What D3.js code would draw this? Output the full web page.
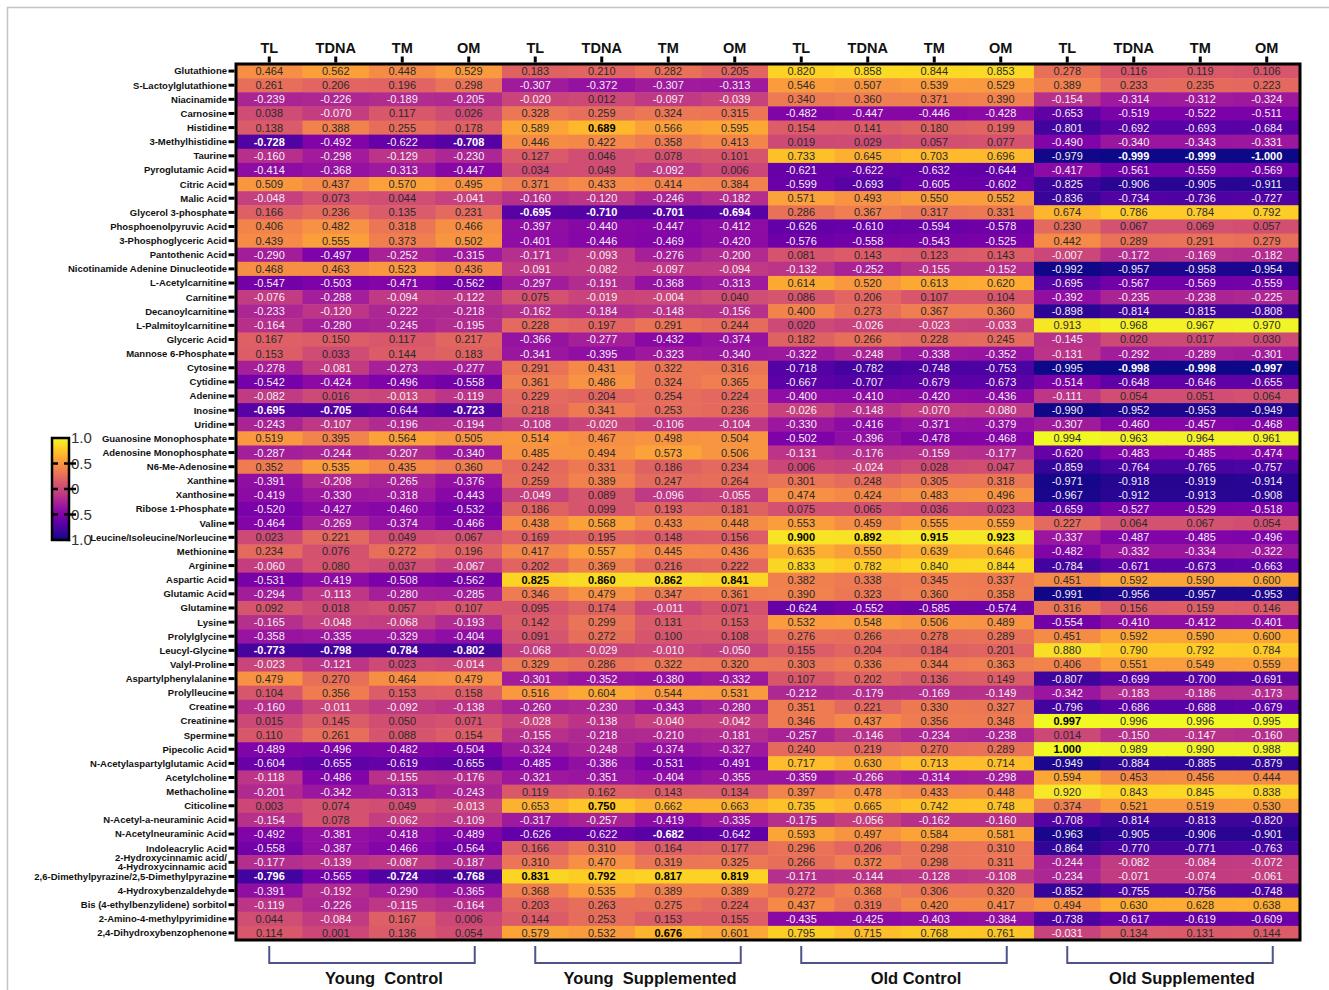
<!DOCTYPE html>
<html>
<head>
<meta charset="utf-8">
<script src="https://cdn.jsdelivr.net/npm/d3@7"></script>
<style>
  body { margin: 0; background: #fff; }
  svg { display: block; font-family: "Liberation Sans", Arial, sans-serif; }
  .rowlab { font-size: 9.5px; font-weight: bold; fill: #111; }
  .collab { font-size: 14.5px; font-weight: bold; fill: #111; }
  .cellval { font-family: "Liberation Sans Narrow", "Arial Narrow", sans-serif; font-size: 11px; }
  .grouplab { font-size: 16.5px; font-weight: bold; fill: #111; white-space: pre; }
</style>
</head>
<body>
<script>
// metabolites, top to bottom
const metabolites = [
  'Glutathione', 'S-Lactoylglutathione', 'Niacinamide', 'Carnosine', 'Histidine',
  '3-Methylhistidine', 'Taurine', 'Pyroglutamic Acid', 'Citric Acid', 'Malic Acid',
  'Glycerol 3-phosphate', 'Phosphoenolpyruvic Acid', '3-Phosphoglyceric Acid', 'Pantothenic Acid',
  'Nicotinamide Adenine Dinucleotide', 'L-Acetylcarnitine', 'Carnitine', 'Decanoylcarnitine',
  'L-Palmitoylcarnitine', 'Glyceric Acid', 'Mannose 6-Phosphate', 'Cytosine', 'Cytidine',
  'Adenine', 'Inosine', 'Uridine', 'Guanosine Monophosphate', 'Adenosine Monophosphate',
  'N6-Me-Adenosine', 'Xanthine', 'Xanthosine', 'Ribose 1-Phosphate', 'Valine',
  'Leucine/Isoleucine/Norleucine', 'Methionine', 'Arginine', 'Aspartic Acid', 'Glutamic Acid',
  'Glutamine', 'Lysine', 'Prolylglycine', 'Leucyl-Glycine', 'Valyl-Proline',
  'Aspartylphenylalanine', 'Prolylleucine', 'Creatine', 'Creatinine', 'Spermine',
  'Pipecolic Acid', 'N-Acetylaspartylglutamic Acid', 'Acetylcholine', 'Methacholine',
  'Citicoline', 'N-Acetyl-a-neuraminic Acid', 'N-Acetylneuraminic Acid', 'Indoleacrylic Acid',
  '2-Hydroxycinnamic acid/|4-Hydroxycinnamic acid', '2,6-Dimethylpyrazine/2,5-Dimethylpyrazine',
  '4-Hydroxybenzaldehyde', 'Bis (4-ethylbenzylidene) sorbitol', '2-Amino-4-methylpyrimidine',
  '2,4-Dihydroxybenzophenone'
]
const measures = ['TL', 'TDNA', 'TM', 'OM']
const groups = ['Young  Control', 'Young  Supplemented', 'Old Control', 'Old Supplemented']

// correlation values per group, one row per metabolite: TL, TDNA, TM, OM
const youngControl = [
  [0.464,0.562,0.448,0.529],[0.261,0.206,0.196,0.298],[-0.239,-0.226,-0.189,-0.205],[0.038,-0.070,0.117,0.026],
  [0.138,0.388,0.255,0.178],[-0.728,-0.492,-0.622,-0.708],[-0.160,-0.298,-0.129,-0.230],[-0.414,-0.368,-0.313,-0.447],
  [0.509,0.437,0.570,0.495],[-0.048,0.073,0.044,-0.041],[0.166,0.236,0.135,0.231],[0.406,0.482,0.318,0.466],
  [0.439,0.555,0.373,0.502],[-0.290,-0.497,-0.252,-0.315],[0.468,0.463,0.523,0.436],[-0.547,-0.503,-0.471,-0.562],
  [-0.076,-0.288,-0.094,-0.122],[-0.233,-0.120,-0.222,-0.218],[-0.164,-0.280,-0.245,-0.195],[0.167,0.150,0.117,0.217],
  [0.153,0.033,0.144,0.183],[-0.278,-0.081,-0.273,-0.277],[-0.542,-0.424,-0.496,-0.558],[-0.082,0.016,-0.013,-0.119],
  [-0.695,-0.705,-0.644,-0.723],[-0.243,-0.107,-0.196,-0.194],[0.519,0.395,0.564,0.505],[-0.287,-0.244,-0.207,-0.340],
  [0.352,0.535,0.435,0.360],[-0.391,-0.208,-0.265,-0.376],[-0.419,-0.330,-0.318,-0.443],[-0.520,-0.427,-0.460,-0.532],
  [-0.464,-0.269,-0.374,-0.466],[0.023,0.221,0.049,0.067],[0.234,0.076,0.272,0.196],[-0.060,0.080,0.037,-0.067],
  [-0.531,-0.419,-0.508,-0.562],[-0.294,-0.113,-0.280,-0.285],[0.092,0.018,0.057,0.107],[-0.165,-0.048,-0.068,-0.193],
  [-0.358,-0.335,-0.329,-0.404],[-0.773,-0.798,-0.784,-0.802],[-0.023,-0.121,0.023,-0.014],[0.479,0.270,0.464,0.479],
  [0.104,0.356,0.153,0.158],[-0.160,-0.011,-0.092,-0.138],[0.015,0.145,0.050,0.071],[0.110,0.261,0.088,0.154],
  [-0.489,-0.496,-0.482,-0.504],[-0.604,-0.655,-0.619,-0.655],[-0.118,-0.486,-0.155,-0.176],[-0.201,-0.342,-0.313,-0.243],
  [0.003,0.074,0.049,-0.013],[-0.154,0.078,-0.062,-0.109],[-0.492,-0.381,-0.418,-0.489],[-0.558,-0.387,-0.466,-0.564],
  [-0.177,-0.139,-0.087,-0.187],[-0.796,-0.565,-0.724,-0.768],[-0.391,-0.192,-0.290,-0.365],[-0.119,-0.226,-0.115,-0.164],
  [0.044,-0.084,0.167,0.006],[0.114,0.001,0.136,0.054]
]
const youngSupplemented = [
  [0.183,0.210,0.282,0.205],[-0.307,-0.372,-0.307,-0.313],[-0.020,0.012,-0.097,-0.039],[0.328,0.259,0.324,0.315],
  [0.589,0.689,0.566,0.595],[0.446,0.422,0.358,0.413],[0.127,0.046,0.078,0.101],[0.034,0.049,-0.092,0.006],
  [0.371,0.433,0.414,0.384],[-0.160,-0.120,-0.246,-0.182],[-0.695,-0.710,-0.701,-0.694],[-0.397,-0.440,-0.447,-0.412],
  [-0.401,-0.446,-0.469,-0.420],[-0.171,-0.093,-0.276,-0.200],[-0.091,-0.082,-0.097,-0.094],[-0.297,-0.191,-0.368,-0.313],
  [0.075,-0.019,-0.004,0.040],[-0.162,-0.184,-0.148,-0.156],[0.228,0.197,0.291,0.244],[-0.366,-0.277,-0.432,-0.374],
  [-0.341,-0.395,-0.323,-0.340],[0.291,0.431,0.322,0.316],[0.361,0.486,0.324,0.365],[0.229,0.204,0.254,0.224],
  [0.218,0.341,0.253,0.236],[-0.108,-0.020,-0.106,-0.104],[0.514,0.467,0.498,0.504],[0.485,0.494,0.573,0.506],
  [0.242,0.331,0.186,0.234],[0.259,0.389,0.247,0.264],[-0.049,0.089,-0.096,-0.055],[0.186,0.099,0.193,0.181],
  [0.438,0.568,0.433,0.448],[0.169,0.195,0.148,0.156],[0.417,0.557,0.445,0.436],[0.202,0.369,0.216,0.222],
  [0.825,0.860,0.862,0.841],[0.346,0.479,0.347,0.361],[0.095,0.174,-0.011,0.071],[0.142,0.299,0.131,0.153],
  [0.091,0.272,0.100,0.108],[-0.068,-0.029,-0.010,-0.050],[0.329,0.286,0.322,0.320],[-0.301,-0.352,-0.380,-0.332],
  [0.516,0.604,0.544,0.531],[-0.260,-0.230,-0.343,-0.280],[-0.028,-0.138,-0.040,-0.042],[-0.155,-0.218,-0.210,-0.181],
  [-0.324,-0.248,-0.374,-0.327],[-0.485,-0.386,-0.531,-0.491],[-0.321,-0.351,-0.404,-0.355],[0.119,0.162,0.143,0.134],
  [0.653,0.750,0.662,0.663],[-0.317,-0.257,-0.419,-0.335],[-0.626,-0.622,-0.682,-0.642],[0.166,0.310,0.164,0.177],
  [0.310,0.470,0.319,0.325],[0.831,0.792,0.817,0.819],[0.368,0.535,0.389,0.389],[0.203,0.263,0.275,0.224],
  [0.144,0.253,0.153,0.155],[0.579,0.532,0.676,0.601]
]
const oldControl = [
  [0.820,0.858,0.844,0.853],[0.546,0.507,0.539,0.529],[0.340,0.360,0.371,0.390],[-0.482,-0.447,-0.446,-0.428],
  [0.154,0.141,0.180,0.199],[0.019,0.029,0.057,0.077],[0.733,0.645,0.703,0.696],[-0.621,-0.622,-0.632,-0.644],
  [-0.599,-0.693,-0.605,-0.602],[0.571,0.493,0.550,0.552],[0.286,0.367,0.317,0.331],[-0.626,-0.610,-0.594,-0.578],
  [-0.576,-0.558,-0.543,-0.525],[0.081,0.143,0.123,0.143],[-0.132,-0.252,-0.155,-0.152],[0.614,0.520,0.613,0.620],
  [0.086,0.206,0.107,0.104],[0.400,0.273,0.367,0.360],[0.020,-0.026,-0.023,-0.033],[0.182,0.266,0.228,0.245],
  [-0.322,-0.248,-0.338,-0.352],[-0.718,-0.782,-0.748,-0.753],[-0.667,-0.707,-0.679,-0.673],[-0.400,-0.410,-0.420,-0.436],
  [-0.026,-0.148,-0.070,-0.080],[-0.330,-0.416,-0.371,-0.379],[-0.502,-0.396,-0.478,-0.468],[-0.131,-0.176,-0.159,-0.177],
  [0.006,-0.024,0.028,0.047],[0.301,0.248,0.305,0.318],[0.474,0.424,0.483,0.496],[0.075,0.065,0.036,0.023],
  [0.553,0.459,0.555,0.559],[0.900,0.892,0.915,0.923],[0.635,0.550,0.639,0.646],[0.833,0.782,0.840,0.844],
  [0.382,0.338,0.345,0.337],[0.390,0.323,0.360,0.358],[-0.624,-0.552,-0.585,-0.574],[0.532,0.548,0.506,0.489],
  [0.276,0.266,0.278,0.289],[0.155,0.204,0.184,0.201],[0.303,0.336,0.344,0.363],[0.107,0.202,0.136,0.149],
  [-0.212,-0.179,-0.169,-0.149],[0.351,0.221,0.330,0.327],[0.346,0.437,0.356,0.348],[-0.257,-0.146,-0.234,-0.238],
  [0.240,0.219,0.270,0.289],[0.717,0.630,0.713,0.714],[-0.359,-0.266,-0.314,-0.298],[0.397,0.478,0.433,0.448],
  [0.735,0.665,0.742,0.748],[-0.175,-0.056,-0.162,-0.160],[0.593,0.497,0.584,0.581],[0.296,0.206,0.298,0.310],
  [0.266,0.372,0.298,0.311],[-0.171,-0.144,-0.128,-0.108],[0.272,0.368,0.306,0.320],[0.437,0.319,0.420,0.417],
  [-0.435,-0.425,-0.403,-0.384],[0.795,0.715,0.768,0.761]
]
const oldSupplemented = [
  [0.278,0.116,0.119,0.106],[0.389,0.233,0.235,0.223],[-0.154,-0.314,-0.312,-0.324],[-0.653,-0.519,-0.522,-0.511],
  [-0.801,-0.692,-0.693,-0.684],[-0.490,-0.340,-0.343,-0.331],[-0.979,-0.999,-0.999,-1.000],[-0.417,-0.561,-0.559,-0.569],
  [-0.825,-0.906,-0.905,-0.911],[-0.836,-0.734,-0.736,-0.727],[0.674,0.786,0.784,0.792],[0.230,0.067,0.069,0.057],
  [0.442,0.289,0.291,0.279],[-0.007,-0.172,-0.169,-0.182],[-0.992,-0.957,-0.958,-0.954],[-0.695,-0.567,-0.569,-0.559],
  [-0.392,-0.235,-0.238,-0.225],[-0.898,-0.814,-0.815,-0.808],[0.913,0.968,0.967,0.970],[-0.145,0.020,0.017,0.030],
  [-0.131,-0.292,-0.289,-0.301],[-0.995,-0.998,-0.998,-0.997],[-0.514,-0.648,-0.646,-0.655],[-0.111,0.054,0.051,0.064],
  [-0.990,-0.952,-0.953,-0.949],[-0.307,-0.460,-0.457,-0.468],[0.994,0.963,0.964,0.961],[-0.620,-0.483,-0.485,-0.474],
  [-0.859,-0.764,-0.765,-0.757],[-0.971,-0.918,-0.919,-0.914],[-0.967,-0.912,-0.913,-0.908],[-0.659,-0.527,-0.529,-0.518],
  [0.227,0.064,0.067,0.054],[-0.337,-0.487,-0.485,-0.496],[-0.482,-0.332,-0.334,-0.322],[-0.784,-0.671,-0.673,-0.663],
  [0.451,0.592,0.590,0.600],[-0.991,-0.956,-0.957,-0.953],[0.316,0.156,0.159,0.146],[-0.554,-0.410,-0.412,-0.401],
  [0.451,0.592,0.590,0.600],[0.880,0.790,0.792,0.784],[0.406,0.551,0.549,0.559],[-0.807,-0.699,-0.700,-0.691],
  [-0.342,-0.183,-0.186,-0.173],[-0.796,-0.686,-0.688,-0.679],[0.997,0.996,0.996,0.995],[0.014,-0.150,-0.147,-0.160],
  [1.000,0.989,0.990,0.988],[-0.949,-0.884,-0.885,-0.879],[0.594,0.453,0.456,0.444],[0.920,0.843,0.845,0.838],
  [0.374,0.521,0.519,0.530],[-0.708,-0.814,-0.813,-0.820],[-0.963,-0.905,-0.906,-0.901],[-0.864,-0.770,-0.771,-0.763],
  [-0.244,-0.082,-0.084,-0.072],[-0.234,-0.071,-0.074,-0.061],[-0.852,-0.755,-0.756,-0.748],[0.494,0.630,0.628,0.638],
  [-0.738,-0.617,-0.619,-0.609],[-0.031,0.134,0.131,0.144]
]
const groupValues = [youngControl, youngSupplemented, oldControl, oldSupplemented]

// significant cells (drawn bold): [metabolite index, group index, measure index]
const significant = [
  [4,1,1], [5,0,0], [5,0,3], [6,3,1], [6,3,2], [6,3,3],
  [10,1,0], [10,1,1], [10,1,2], [10,1,3], [21,3,1], [21,3,2], [21,3,3],
  [24,0,0], [24,0,1], [24,0,3], [33,2,0], [33,2,1], [33,2,2], [33,2,3],
  [36,1,0], [36,1,1], [36,1,2], [36,1,3], [41,0,0], [41,0,1], [41,0,2], [41,0,3],
  [46,3,0], [48,3,0], [52,1,1], [54,1,2],
  [57,0,0], [57,0,2], [57,0,3], [57,1,0], [57,1,1], [57,1,2], [57,1,3], [61,1,2]
]
const colorTicks = [1.0, 0.5, 0, -0.5, -1.0]

const width = 1329, height = 990
const margin = { top: 64, left: 236, right: 29, bottom: 50 }

const svg = d3.select('body').append('svg').attr('width', width).attr('height', height)

// light frame of the figure
svg.append('path')
  .attr('d', `M7.5,${height} V7.5 H${width}`)
  .attr('fill', 'none').attr('stroke', '#c4c4c4').attr('stroke-width', 1.5)

// flat list of cells
const columns = []
groups.forEach((g, gi) => measures.forEach((m, mi) => columns.push({ key: gi + '-' + mi, g: gi, m: mi, label: m })))
const sigSet = new Set(significant.map(d => d.join('|')))
const cells = []
metabolites.forEach((name, r) => {
  columns.forEach(c => {
    const v = groupValues[c.g][r][c.m]
    cells.push({ r, key: c.key, v, bold: sigSet.has([r, c.g, c.m].join('|')) })
  })
})

const x = d3.scaleBand().domain(columns.map(c => c.key)).range([margin.left, width - margin.right])
const y = d3.scaleBand().domain(d3.range(metabolites.length)).range([margin.top, height - margin.bottom])
const color = d3.scaleSequential(d3.interpolatePlasma).domain([-1, 1])

const g = svg.append('g')
g.selectAll('rect.cell').data(cells).enter().append('rect')
  .attr('class', 'cell')
  .attr('x', d => x(d.key))
  .attr('y', d => y(d.r))
  .attr('width', x.bandwidth() + 0.5)
  .attr('height', y.bandwidth() + 0.5)
  .attr('fill', d => color(d.v))

g.selectAll('text.cellval').data(cells).enter().append('text')
  .attr('class', 'cellval')
  .attr('x', d => x(d.key) + x.bandwidth() / 2)
  .attr('y', d => y(d.r) + y.bandwidth() / 2)
  .attr('dy', '0.36em')
  .attr('text-anchor', 'middle')
  .attr('font-weight', d => d.bold ? 'bold' : 'normal')
  .attr('fill', d => d.v < 0 ? (d.bold ? '#fff' : '#f2eef6') : (d.bold ? '#000' : '#2a2a2a'))
  .text(d => d3.format('.3f')(d.v).replace('−', '-'))

// border
svg.append('rect')
  .attr('x', margin.left).attr('y', margin.top)
  .attr('width', width - margin.right - margin.left)
  .attr('height', height - margin.bottom - margin.top)
  .attr('fill', 'none').attr('stroke', '#000').attr('stroke-width', 3)

// top axis
const xAxis = svg.append('g')
  .attr('transform', `translate(0,${margin.top - 1.5})`)
  .call(d3.axisTop(x).tickSize(6).tickPadding(4).tickFormat(k => columns.find(c => c.key === k).label))
xAxis.select('.domain').remove()
xAxis.selectAll('line').attr('stroke-width', 3)
xAxis.selectAll('text').attr('class', 'collab').attr('font-family', null).attr('font-size', null)

// left axis
const yAxis = svg.append('g')
  .attr('transform', `translate(${margin.left - 1.5},0)`)
  .call(d3.axisLeft(y).tickSize(6).tickPadding(1).tickFormat(''))
yAxis.select('.domain').remove()
yAxis.selectAll('line').attr('stroke-width', 3)

svg.append('g').selectAll('text').data(metabolites).enter().append('text')
  .attr('class', 'rowlab')
  .attr('text-anchor', 'end')
  .attr('x', margin.left - 9)
  .attr('y', (d, i) => y(i) + y.bandwidth() / 2)
  .each(function (d) {
    const parts = d.split('|')
    const t = d3.select(this)
    parts.forEach((p, j) => {
      t.append('tspan')
        .attr('x', margin.left - 9)
        .attr('dy', j === 0 ? (0.36 - (parts.length - 1) * 0.5) + 'em' : '1em')
        .text(p)
    })
  })

// group brackets and labels
const bracketTop = height - margin.bottom + 6, bracketBottom = height - margin.bottom + 23
groups.forEach((name, gi) => {
  const x1 = x(gi + '-0') + x.bandwidth() / 2
  const x2 = x(gi + '-3') + x.bandwidth() / 2 + 6
  svg.append('path')
    .attr('d', `M${x1},${bracketTop} V${bracketBottom} H${x2} V${bracketTop}`)
    .attr('fill', 'none').attr('stroke', '#50538a').attr('stroke-width', 2)
  svg.append('text')
    .attr('class', 'grouplab')
    .attr('x', (x1 + x2) / 2 + 12)
    .attr('y', height - 6)
    .attr('text-anchor', 'middle')
    .text(name)
})

// colour bar (labels first, so the bar border and ticks sit over the minus signs)
const cb = { x: 52, y: 438, w: 17, h: 102 }
const defs = svg.append('defs')
const grad = defs.append('linearGradient').attr('id', 'cbar')
  .attr('x1', 0).attr('x2', 0).attr('y1', 1).attr('y2', 0)
d3.range(0, 1.0001, 0.05).forEach(t => {
  grad.append('stop').attr('offset', t).attr('stop-color', d3.interpolatePlasma(t))
})
const cy = d3.scaleLinear().domain([-1, 1]).range([cb.y + cb.h, cb.y])
svg.append('g').selectAll('text').data(colorTicks).enter().append('text')
  .attr('x', cb.x + cb.w + 2)
  .attr('dx', d => d < 0 ? -5 : 0)
  .attr('y', d => cy(d))
  .attr('dy', '0.36em')
  .attr('font-size', 15)
  .attr('fill', '#333')
  .text(d => d === 0 ? '0' : d3.format('.1f')(d).replace('−', '-'))
svg.append('rect')
  .attr('x', cb.x).attr('y', cb.y).attr('width', cb.w).attr('height', cb.h)
  .attr('fill', 'url(#cbar)').attr('stroke', '#000').attr('stroke-width', 2.5)
const inner = colorTicks.filter(d => Math.abs(d) < 1)
svg.append('g').selectAll('line').data(inner).enter().append('line')
  .attr('x1', cb.x + cb.w - 5).attr('x2', cb.x + cb.w + 7)
  .attr('y1', d => cy(d)).attr('y2', d => cy(d))
  .attr('stroke', '#000').attr('stroke-width', 2.5)
svg.append('g').selectAll('line').data(inner).enter().append('line')
  .attr('x1', cb.x).attr('x2', cb.x + 6)
  .attr('y1', d => cy(d)).attr('y2', d => cy(d))
  .attr('stroke', '#000').attr('stroke-width', 2.5)
</script>
</body>
</html>
